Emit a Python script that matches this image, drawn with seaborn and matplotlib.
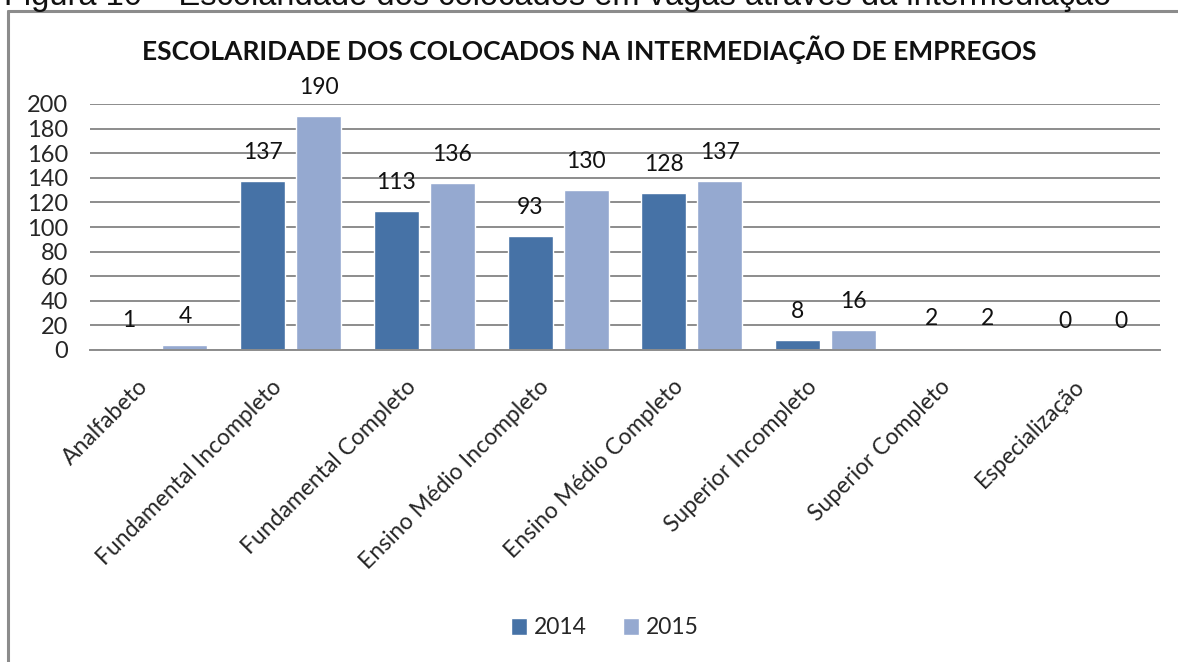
import matplotlib
matplotlib.use("Agg")
import matplotlib.pyplot as plt
import matplotlib.transforms as mtransforms
from matplotlib.patches import Patch
import seaborn as sns
import pandas as pd

categories = ["Analfabeto", "Fundamental Incompleto", "Fundamental Completo",
              "Ensino Médio Incompleto", "Ensino Médio Completo",
              "Superior Incompleto", "Superior Completo", "Especialização"]
values_2014 = [1, 137, 113, 93, 128, 8, 2, 0]
values_2015 = [4, 190, 136, 130, 137, 16, 2, 0]
years = ["2014", "2015"]
yticks = list(range(0, 201, 20))

title = "ESCOLARIDADE DOS COLOCADOS NA INTERMEDIAÇÃO DE EMPREGOS"
caption = "Figura 10 – Escolaridade dos colocados em vagas através da intermediação"

df = pd.DataFrame({
    "cat": categories * 2,
    "val": values_2014 + values_2015,
    "year": [years[0]] * len(categories) + [years[1]] * len(categories),
})

sns.set_theme(style="white")
plt.rcParams["font.family"] = ["Lato", "DejaVu Sans"]

colors = {"2014": "#4672A6", "2015": "#95A9D0"}

fig = plt.figure(figsize=(11.78, 6.62), dpi=100)
W, H = 1178, 662
ax = fig.add_axes([90 / W, 1 - 350 / H, 1070 / W, 246 / H])

sns.barplot(data=df, x="cat", y="val", hue="year", palette=colors,
            width=0.84, gap=0.2, ax=ax, legend=False, saturation=1)

ax.set_ylim(0, 200)
ax.set_xlim(-0.5, len(categories) - 0.5)
ax.set_yticks(yticks)
ax.set_yticklabels([str(v) for v in yticks], fontsize=17)
ax.yaxis.grid(True, color="#8c8c8c", linewidth=1.4)
ax.set_axisbelow(True)
for s in ["top", "right", "left"]:
    ax.spines[s].set_visible(False)
ax.spines["bottom"].set_color("#8c8c8c")
ax.spines["bottom"].set_linewidth(1.4)
ax.tick_params(axis="both", length=0)
ax.tick_params(axis="y", pad=16)
ax.set_xlabel("")
ax.set_ylabel("")

for cont in ax.containers:
    ax.bar_label(cont, fmt="%d", padding=13, fontsize=16.5, color="#111111")

ax.set_xticks(range(len(categories)))
ax.set_xticklabels(categories, rotation=45, ha="right", rotation_mode="anchor",
                   fontsize=16.5, va="center")
ax.tick_params(axis="x", pad=24)
offset = mtransforms.ScaledTranslation(-12 / 100, 0, fig.dpi_scale_trans)
for lbl in ax.get_xticklabels():
    lbl.set_transform(lbl.get_transform() + offset)

fig.text(0.5, 1 - 50 / H, title, ha="center", va="center",
         fontsize=19, fontweight="bold", color="#111111")

fig.text(4 / W, 1 - 5 / H, caption, ha="left", va="baseline",
         fontsize=23.5, family=["Liberation Sans", "DejaVu Sans"], color="#111111")

# frame
fig.add_artist(plt.Line2D([8 / W, 8 / W], [0, 1 - 11 / H], transform=fig.transFigure,
                          color="#8c8c8c", linewidth=2.2))
fig.add_artist(plt.Line2D([8 / W, 1], [1 - 11 / H, 1 - 11 / H], transform=fig.transFigure,
                          color="#8c8c8c", linewidth=2.2))

handles = [Patch(facecolor=colors[y], label=y) for y in years]
fig.legend(handles=handles, loc="center", bbox_to_anchor=(605 / W, 1 - 628 / H),
           ncol=2, frameon=False, fontsize=16.5, handlelength=0.7, handleheight=0.7,
           handletextpad=0.3, columnspacing=1.6)

fig.savefig("out.png", dpi=100)
